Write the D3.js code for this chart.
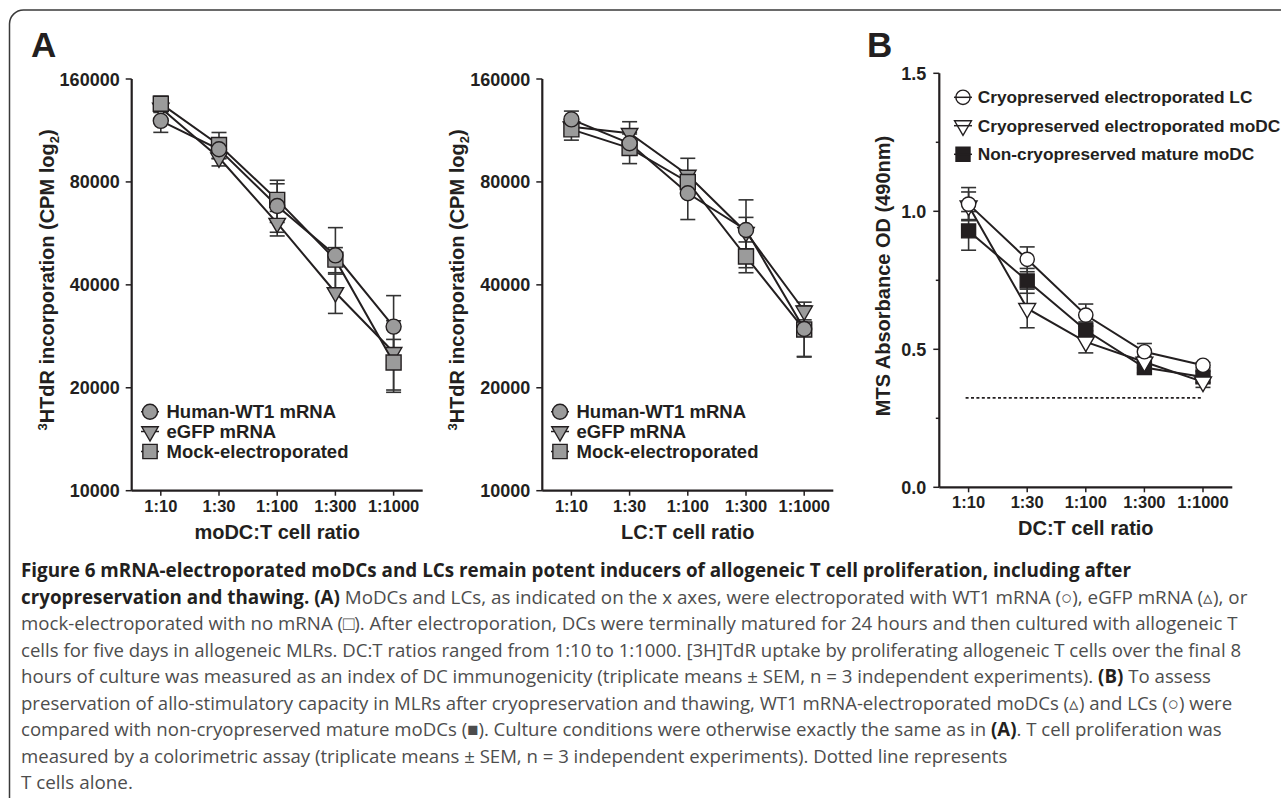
<!DOCTYPE html>
<html>
<head>
<meta charset="utf-8">
<script src="https://cdn.jsdelivr.net/npm/d3@7"></script>
<style>
  body { margin: 0; background: #fff; }
  svg { display: block; }
</style>
</head>
<body>
<script>
// x categories (DC:T cell ratios)
const ratios = ['1:10', '1:30', '1:100', '1:300', '1:1000'];

// panel A, moDC (3HTdR CPM)
const modcWT1 = [120700, 99700, 68000, 48800, 30200];
const modcWT1Sem = [9000, 6000, 11000, 10000, 7000];
const modcEGFP = [131700, 94100, 60600, 38000, 25400];
const modcEGFPSem = [4000, 5000, 5000, 5000, 6000];
const modcMock = [135500, 102600, 70900, 47400, 23700];
const modcMockSem = [7000, 9000, 10000, 4000, 4000];

// panel A, LC (3HTdR CPM)
const lcWT1 = [121900, 103800, 74100, 57900, 29700];
const lcWT1Sem = [7000, 8000, 12000, 13000, 5000];
const lcEGFP = [116000, 111000, 83800, 57000, 33600];
const lcEGFPSem = [5000, 9000, 10000, 6000, 2000];
const lcMock = [114000, 100500, 80000, 48400, 29600];
const lcMockSem = [8000, 10000, 6000, 5000, 5000];

const cpmTicks = [10000, 20000, 40000, 80000, 160000];
const seriesNamesA = ['Human-WT1 mRNA', 'eGFP mRNA', 'Mock-electroporated'];

// panel B (MTS absorbance)
const lcCryo = [1.026, 0.826, 0.624, 0.491, 0.442];
const lcCryoSem = [0.06, 0.045, 0.04, 0.03, 0.01];
const modcCryo = [1.02, 0.648, 0.527, 0.454, 0.382];
const modcCryoSem = [0.05, 0.07, 0.04, 0.02, 0.02];
const modcFresh = [0.929, 0.748, 0.569, 0.434, 0.400];
const modcFreshSem = [0.07, 0.045, 0.03, 0.02, 0.02];
const tCellsAlone = 0.324;
const odTicks = [0.0, 0.5, 1.0, 1.5];
const odMinor = [0.25, 0.75, 1.25];
const seriesNamesB = ['Cryopreserved electroporated LC', 'Cryopreserved electroporated moDC', 'Non-cryopreserved mature moDC'];

const width = 1281, height = 798;
const ink = '#231f20';
const grey = '#9b9b9b';
const font = 'Liberation Sans, Arial, Helvetica, sans-serif';

const svg = d3.select('body').append('svg')
  .attr('width', width)
  .attr('height', height)
  .style('font-family', font);

// frame of the figure
svg.append('path')
  .attr('d', 'M9.5,798 V24 A14,14 0 0 1 23.5,10 H1281')
  .attr('fill', 'none')
  .attr('stroke', '#3a3a3a')
  .attr('stroke-width', 1.5);

svg.append('text').attr('x', 31).attr('y', 57).text('A')
  .attr('font-size', 35).attr('font-weight', 'bold').attr('fill', ink);
svg.append('text').attr('x', 867).attr('y', 57).text('B')
  .attr('font-size', 35).attr('font-weight', 'bold').attr('fill', ink);

function marker(g, type, x, y, size, fill) {
  let sym, rot = 0;
  if (type === 'circle') sym = d3.symbol().type(d3.symbolCircle).size(size);
  else if (type === 'square') sym = d3.symbol().type(d3.symbolSquare).size(size);
  else { sym = d3.symbol().type(d3.symbolTriangle).size(size * 0.62); rot = 180; }
  g.append('path')
    .attr('d', sym)
    .attr('transform', `translate(${x},${y}) rotate(${rot})`)
    .attr('fill', fill)
    .attr('stroke', ink)
    .attr('stroke-width', 1.4);
}

function drawXAxis(g, x, y0, x0, x1, title) {
  g.append('line').attr('x1', x0).attr('x2', x1).attr('y1', y0).attr('y2', y0)
    .attr('stroke', ink).attr('stroke-width', 2.2);
  ratios.forEach(r => {
    g.append('line').attr('x1', x(r)).attr('x2', x(r)).attr('y1', y0).attr('y2', y0 + 5)
      .attr('stroke', ink).attr('stroke-width', 1.5);
    g.append('text').attr('x', x(r)).attr('y', y0 + 21).attr('text-anchor', 'middle')
      .attr('font-size', 16.5).attr('font-weight', 'bold').attr('fill', ink).text(r);
  });
  g.append('text').attr('x', (x0 + x1) / 2).attr('y', y0 + 48).attr('text-anchor', 'middle')
    .attr('font-size', 20).attr('font-weight', 'bold').attr('fill', ink).text(title);
}

function drawSeries(g, x, y, vals, sems, type, size, fill, capW) {
  const pts = vals.map((v, i) => [x(ratios[i]), y(v)]);
  vals.forEach((v, i) => {
    const cx = x(ratios[i]);
    const yt = y(v + sems[i]), yb = y(v - sems[i]);
    g.append('line').attr('x1', cx).attr('x2', cx).attr('y1', yt).attr('y2', yb)
      .attr('stroke', '#333').attr('stroke-width', 1.6);
    [yt, yb].forEach(yy => g.append('line')
      .attr('x1', cx - capW).attr('x2', cx + capW).attr('y1', yy).attr('y2', yy)
      .attr('stroke', '#333').attr('stroke-width', 1.6));
  });
  g.append('path').attr('d', d3.line()(pts)).attr('fill', 'none')
    .attr('stroke', ink).attr('stroke-width', 2);
  return pts;
}

// ---------- panel A ----------
function panelA(x0, x1, title, wt1, wt1Sem, egfp, egfpSem, mock, mockSem, ytX, legX) {
  const g = svg.append('g');
  const yBase = 490.7, yTop = 79;
  const x = d3.scalePoint().domain(ratios).range([x0, x1]).padding(0.5);
  const y = d3.scaleLog().base(2).domain([10000, 160000]).range([yBase, yTop]);

  g.append('line').attr('x1', x0).attr('x2', x0).attr('y1', yTop).attr('y2', yBase)
    .attr('stroke', ink).attr('stroke-width', 2.2);
  cpmTicks.forEach(t => {
    g.append('line').attr('x1', x0 - 6).attr('x2', x0).attr('y1', y(t)).attr('y2', y(t))
      .attr('stroke', ink).attr('stroke-width', 1.5);
    g.append('text').attr('x', x0 - 12).attr('y', y(t) + 6.5).attr('text-anchor', 'end')
      .attr('font-size', 18).attr('font-weight', 'bold').attr('fill', ink).text(t);
  });
  drawXAxis(g, x, yBase, x0, x1, title);

  const yt = g.append('text')
    .attr('transform', `translate(${ytX},280) rotate(-90)`)
    .attr('text-anchor', 'middle').attr('font-size', 20).attr('font-weight', 'bold').attr('fill', ink);
  yt.append('tspan').attr('font-size', 13).attr('dy', -7).text('3');
  yt.append('tspan').attr('dy', 7).text('HTdR incorporation (CPM log');
  yt.append('tspan').attr('font-size', 13).attr('dy', 5).text('2');
  yt.append('tspan').attr('dy', -5).text(')');

  const pE = drawSeries(g, x, y, egfp, egfpSem, 'triangle', 190, grey, 7.5);
  const pM = drawSeries(g, x, y, mock, mockSem, 'square', 225, grey, 7.5);
  const pW = drawSeries(g, x, y, wt1, wt1Sem, 'circle', 177, grey, 7.5);
  pE.forEach(p => marker(g, 'triangle', p[0], p[1], 190, grey));
  pM.forEach(p => marker(g, 'square', p[0], p[1], 225, grey));
  pW.forEach(p => marker(g, 'circle', p[0], p[1], 177, grey));

  const types = ['circle', 'triangle', 'square'];
  const sizes = [177, 190, 205];
  const legY = [411.7, 431.5, 451.5];
  seriesNamesA.forEach((name, i) => {
    g.append('line').attr('x1', legX - 9).attr('x2', legX + 9).attr('y1', legY[i]).attr('y2', legY[i])
      .attr('stroke', ink).attr('stroke-width', 1.5);
    marker(g, types[i], legX, legY[i], sizes[i], grey);
    g.append('text').attr('x', legX + 16.5).attr('y', legY[i] + 6.5)
      .attr('font-size', 18.5).attr('font-weight', 'bold').attr('fill', ink).text(name);
  });
}

panelA(131.7, 422.7, 'moDC:T cell ratio', modcWT1, modcWT1Sem, modcEGFP, modcEGFPSem, modcMock, modcMockSem, 54, 150);
panelA(542.3, 833.3, 'LC:T cell ratio', lcWT1, lcWT1Sem, lcEGFP, lcEGFPSem, lcMock, lcMockSem, 464, 560);

// ---------- panel B ----------
(function () {
  const g = svg.append('g');
  const x0 = 939.3, x1 = 1232.3, yBase = 487.3, yTop = 73.3;
  const x = d3.scalePoint().domain(ratios).range([x0, x1]).padding(0.5);
  const y = d3.scaleLinear().domain([0, 1.5]).range([yBase, yTop]);

  g.append('line').attr('x1', x0).attr('x2', x0).attr('y1', yTop).attr('y2', yBase)
    .attr('stroke', ink).attr('stroke-width', 2.2);
  odTicks.forEach(t => {
    g.append('line').attr('x1', x0 - 6).attr('x2', x0).attr('y1', y(t)).attr('y2', y(t))
      .attr('stroke', ink).attr('stroke-width', 1.5);
    g.append('text').attr('x', x0 - 13).attr('y', y(t) + 6.5).attr('text-anchor', 'end')
      .attr('font-size', 18).attr('font-weight', 'bold').attr('fill', ink).text(d3.format('.1f')(t));
  });
  odMinor.forEach(t => {
    g.append('line').attr('x1', x0 - 3.5).attr('x2', x0).attr('y1', y(t)).attr('y2', y(t))
      .attr('stroke', ink).attr('stroke-width', 1.5);
  });
  drawXAxis(g, x, yBase, x0, x1, 'DC:T cell ratio');

  g.append('text').attr('transform', 'translate(890,276) rotate(-90)')
    .attr('text-anchor', 'middle').attr('font-size', 20).attr('font-weight', 'bold').attr('fill', ink)
    .text('MTS Absorbance OD (490nm)');

  // T cells alone
  g.append('line').attr('x1', x(ratios[0]) - 3).attr('x2', x(ratios[4]) - 2)
    .attr('y1', y(tCellsAlone)).attr('y2', y(tCellsAlone))
    .attr('stroke', ink).attr('stroke-width', 1.6).attr('stroke-dasharray', '3,2.4');

  const pF = drawSeries(g, x, y, modcFresh, modcFreshSem, 'square', 196, ink, 7.5);
  const pT = drawSeries(g, x, y, modcCryo, modcCryoSem, 'triangle', 200, '#fff', 7.5);
  const pL = drawSeries(g, x, y, lcCryo, lcCryoSem, 'circle', 160, '#fff', 7.5);
  pF.forEach(p => marker(g, 'square', p[0], p[1], 196, ink));
  pT.forEach(p => marker(g, 'triangle', p[0], p[1], 200, '#fff'));
  pL.forEach(p => marker(g, 'circle', p[0], p[1], 160, '#fff'));

  const types = ['circle', 'triangle', 'square'];
  const fills = ['#fff', '#fff', ink];
  const sizes = [160, 200, 196];
  const legY = [97.3, 125.7, 154.3];
  seriesNamesB.forEach((name, i) => {
    marker(g, types[i], 963, legY[i], sizes[i], fills[i]);
    g.append('line').attr('x1', 954).attr('x2', 972).attr('y1', legY[i]).attr('y2', legY[i])
      .attr('stroke', ink).attr('stroke-width', 1.5);
    g.append('text').attr('x', 977.7).attr('y', legY[i] + 6)
      .attr('font-size', 17.3).attr('font-weight', 'bold').attr('fill', ink).text(name);
  });
})();

// ---------- caption ----------
const captionLines = [
  [['b', 'Figure 6 mRNA-electroporated moDCs and LCs remain potent inducers of allogeneic T cell proliferation, including after']],
  [['b', 'cryopreservation and thawing. (A)'], ['r', ' MoDCs and LCs, as indicated on the x axes, were electroporated with WT1 mRNA (\u25CB), eGFP mRNA (\u25B5), or']],
  [['r', 'mock-electroporated with no mRNA (\u25A1). After electroporation, DCs were terminally matured for 24 hours and then cultured with allogeneic T']],
  [['r', 'cells for five days in allogeneic MLRs. DC:T ratios ranged from 1:10 to 1:1000. [3H]TdR uptake by proliferating allogeneic T cells over the final 8']],
  [['r', 'hours of culture was measured as an index of DC immunogenicity (triplicate means \u00B1 SEM, n = 3 independent experiments). '], ['b', '(B)'], ['r', ' To assess']],
  [['r', 'preservation of allo-stimulatory capacity in MLRs after cryopreservation and thawing, WT1 mRNA-electroporated moDCs (\u25B5) and LCs (\u25CB) were']],
  [['r', 'compared with non-cryopreserved mature moDCs (\u25A0). Culture conditions were otherwise exactly the same as in '], ['b', '(A)'], ['r', '. T cell proliferation was']],
  [['r', 'measured by a colorimetric assay (triplicate means \u00B1 SEM, n = 3 independent experiments). Dotted line represents']],
  [['r', 'T cells alone.']]
];
const captionWidths = [1111, 1227, 1217, 1221, 1191, 1212, 1202, 987, 112];

captionLines.forEach((parts, i) => {
  const t = svg.append('text')
    .attr('x', 0).attr('y', 0)
    .style('font-family', 'Open Sans, Noto Sans, sans-serif')
    .attr('font-size', 19);
  parts.forEach(p => {
    t.append('tspan').text(p[1])
      .attr('font-weight', p[0] === 'b' ? 'bold' : 'normal')
      .attr('fill', p[0] === 'b' ? ink : '#4d4d4d');
  });
  const w = t.node().getComputedTextLength();
  t.attr('transform', `translate(21,${577 + i * 26.5}) scale(${captionWidths[i] / w},1)`);
});
</script>
</body>
</html>
